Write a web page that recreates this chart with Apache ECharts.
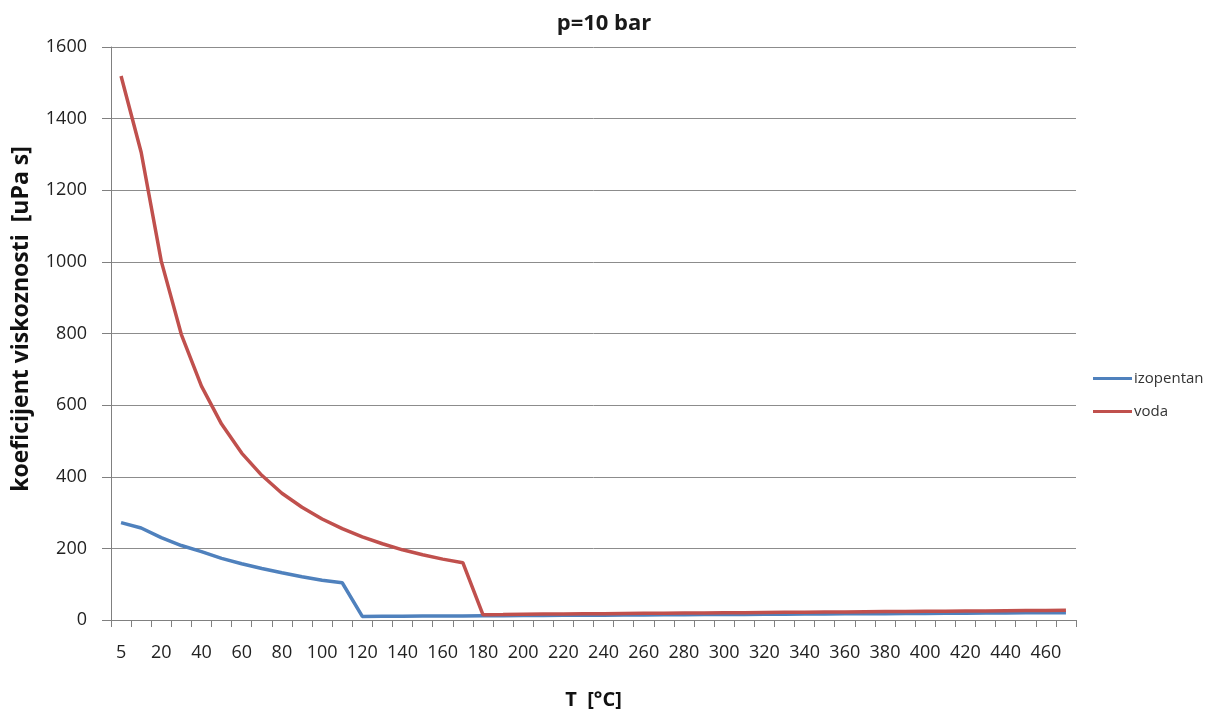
<!DOCTYPE html>
<html><head><meta charset="utf-8">
<script src="https://cdn.jsdelivr.net/npm/echarts@6/dist/echarts.min.js"></script>
<style>html,body{margin:0;padding:0;background:#fff}#c{width:1218px;height:715px}</style>
</head><body><div id="c"></div>
<script>
const temps = ['5','10','20','30','40','50','60','70','80','90','100','110','120','130','140','150','160','170','180','190','200','210','220','230','240','250','260','270','280','290','300','310','320','330','340','350','360','370','380','390','400','410','420','430','440','450','460','470'];
const izopentan = [272,257,230,208,191,172,157,144,132,121,111,104,10,10.3,10.6,10.9,11.2,11.5,11.8,12.1,12.4,12.7,13,13.3,13.6,13.9,14.2,14.5,14.8,15.1,15.4,15.7,16,16.3,16.6,16.9,17.2,17.5,17.8,18.1,18.4,18.7,19,19.3,19.6,19.9,20.2,20.5];
const voda = [1519,1306,1002,797,653,547,466,404,354,315,282,255,232,213,196,182,170,160,15,15.5,16.1,16.5,16.9,17.3,17.7,18.1,18.5,18.9,19.3,19.7,20.1,20.5,21,21.4,21.8,22.2,22.6,23,23.4,23.8,24.2,24.6,25,25.4,25.8,26.2,26.6,27];
const yTicks = {min:0, max:1600, interval:200};
const yTitle = 'koeficijent viskoznosti  [uPa s]';

const chart = echarts.init(document.getElementById('c'), null, {renderer:'canvas'});
const font = 'Open Sans, Liberation Sans, sans-serif';
chart.setOption({
  animation:false,
  backgroundColor:'#fff',
  title:{text:'p=10 bar', left:599, top:8, textAlign:'center',
    textStyle:{fontFamily:font, fontSize:22, fontWeight:'bold', color:'#1a1a1a'}},
  grid:{left:111, right:142, top:47, bottom:94},
  legend:{orient:'vertical', left:1088, top:366, itemWidth:39, itemHeight:3, itemGap:18,
    icon:'rect',
    textStyle:{fontFamily:font, fontSize:15, color:'#333', padding:[0,0,0,-3]},
    data:['izopentan','voda']},
  graphic:[{type:'text', x:21, y:319, rotation:Math.PI/2,
    style:{text:yTitle, font:'bold 23px Open Sans, Liberation Sans, sans-serif', fill:'#111',
      textAlign:'center', textVerticalAlign:'middle'}}],
  xAxis:{type:'category', data:temps, boundaryGap:true,
    name:'T  [°C]', nameLocation:'middle', nameGap:70,
    nameTextStyle:{fontFamily:font, fontSize:20, fontWeight:'bold', color:'#111'},
    axisLine:{lineStyle:{color:'#808080', width:1}},
    axisTick:{show:true, alignWithLabel:false, interval:0, length:7, lineStyle:{color:'#808080'}},
    axisLabel:{interval:1, margin:24, fontFamily:font, fontSize:18, color:'#222'},
    splitLine:{show:false}},
  yAxis:{type:'value', min:yTicks.min, max:yTicks.max, interval:yTicks.interval,
    axisLine:{show:true, lineStyle:{color:'#808080', width:1}},
    axisTick:{show:true, length:9, lineStyle:{color:'#808080'}},
    axisLabel:{margin:24, fontFamily:font, fontSize:18, color:'#222', formatter:function(v){return String(v);}},
    splitLine:{show:true, lineStyle:{color:'#8c8c8c', width:1}}},
  series:[
    {name:'izopentan', type:'line', data:izopentan, showSymbol:false, symbol:'none',
      lineStyle:{color:'#4F81BD', width:3.5}, itemStyle:{color:'#4F81BD'}},
    {name:'voda', type:'line', data:voda, showSymbol:false, symbol:'none',
      lineStyle:{color:'#C0504D', width:3.5}, itemStyle:{color:'#C0504D'}}
  ]
});
</script></body></html>
